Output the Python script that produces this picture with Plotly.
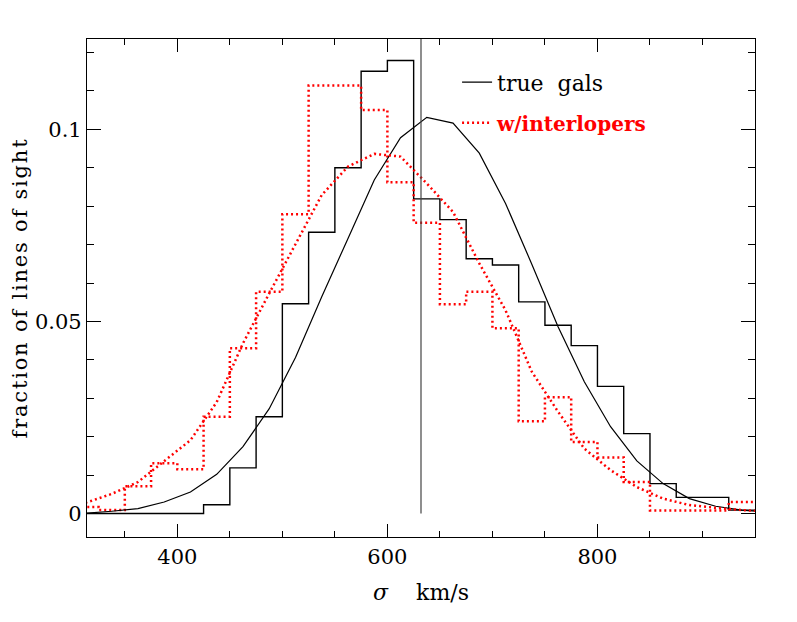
import plotly.graph_objects as go

# bin edges of the two histograms (km/s)
edges = [300, 325, 350, 375, 400, 425, 450, 475, 500, 525, 550, 575, 600,
         625, 650, 675, 700, 725, 750, 775, 800, 825, 850, 875, 900, 925, 950]

# fraction per bin, true galaxies only
true_hist = [0.0, 0.0, 0.0, 0.0, 0.0, 0.0023, 0.0119, 0.0252, 0.0546, 0.0732,
             0.0900, 0.1151, 0.1179, 0.0819, 0.0765, 0.0663, 0.0647, 0.0551,
             0.0490, 0.0437, 0.0331, 0.0208, 0.0078, 0.0042, 0.0042, 0.0009]

# fraction per bin, with interlopers
inter_hist = [0.0017, 0.0009, 0.0071, 0.0131, 0.0115, 0.0252, 0.0430, 0.0577,
              0.0779, 0.1114, 0.1114, 0.1050, 0.0862, 0.0757, 0.0545, 0.0577,
              0.0482, 0.0240, 0.0303, 0.0186, 0.0146, 0.0082, 0.0008, 0.0008,
              0.0008, 0.0030]

# smooth curves sampled at bin centres
centers = [312.5, 337.5, 362.5, 387.5, 412.5, 437.5, 462.5, 487.5, 512.5,
           537.5, 562.5, 587.5, 612.5, 637.5, 662.5, 687.5, 712.5, 737.5,
           762.5, 787.5, 812.5, 837.5, 862.5, 887.5, 912.5, 937.5, 962.5]

true_curve = [0.0001, 0.0006, 0.0013, 0.0030, 0.0056, 0.0102, 0.0174, 0.0273,
              0.0406, 0.0564, 0.0716, 0.0868, 0.0978, 0.1031, 0.1016, 0.0938,
              0.0807, 0.0649, 0.0486, 0.0343, 0.0226, 0.0137, 0.0078, 0.0039,
              0.0019, 0.0009, 0.0004]

inter_curve = [0.0028, 0.0051, 0.0082, 0.0136, 0.0191, 0.0290, 0.0443, 0.0573,
               0.0703, 0.0829, 0.0903, 0.0936, 0.0929, 0.0859, 0.0785, 0.0651,
               0.0529, 0.0369, 0.0265, 0.0169, 0.0113, 0.0069, 0.0039, 0.0022,
               0.0015, 0.0009, 0.0006]

# vertical marker
sigma_mark = 632
mark_y = [0.0, 0.13]

FONT = "DejaVu Serif"
RED = "#ff0000"

fig = go.Figure()

fig.add_trace(go.Scatter(x=edges, y=true_hist + true_hist[-1:], mode="lines",
                         line=dict(color="black", width=1.4, shape="hv"),
                         showlegend=False, hoverinfo="skip"))
fig.add_trace(go.Scatter(x=edges, y=inter_hist + inter_hist[-1:], mode="lines",
                         line=dict(color=RED, width=2.5, shape="hv", dash="2px,3px"),
                         showlegend=False, hoverinfo="skip"))
fig.add_trace(go.Scatter(x=centers, y=true_curve, mode="lines", name="true  gals",
                         legendgroup="a",
                         line=dict(color="black", width=1.2)))
fig.add_trace(go.Scatter(x=centers, y=inter_curve, mode="lines",
                         name="<span style='color:#ff0000;font-size:20px'><b>w/interlopers</b></span>",
                         legendgroup="b",
                         line=dict(color=RED, width=2.5, dash="2px,3px")))
fig.add_trace(go.Scatter(x=[sigma_mark, sigma_mark], y=mark_y, mode="lines",
                         line=dict(color="#444444", width=1.2),
                         showlegend=False, hoverinfo="skip"))

axis_common = dict(showline=True, linecolor="black", linewidth=1.2, mirror="ticks",
                   ticks="inside", tickcolor="black", showgrid=False, zeroline=False,
                   automargin=False,
                   tickfont=dict(family=FONT, size=21, color="black"))

fig.update_xaxes(range=[314, 950], tick0=0, dtick=200, ticklen=13, tickwidth=1.2,
                 minor=dict(dtick=50, ticklen=6, ticks="inside", tickcolor="black", tickwidth=1.2),
                 ticklabelstandoff=1,
                 title=dict(text="<i>σ</i>    km/s", font=dict(family=FONT, size=22, color="black"),
                            standoff=16),
                 **axis_common)
fig.update_yaxes(range=[-0.0061, 0.1235], tick0=0, dtick=0.05, ticklen=14, tickwidth=1.2,
                 minor=dict(dtick=0.01, ticklen=7, ticks="inside", tickcolor="black", tickwidth=1.2),
                 title=dict(text="<span style='letter-spacing:1.8px'>fraction of lines of sight</span>",
                            font=dict(family=FONT, size=21, color="black"), standoff=3),
                 **axis_common)

# the page body adds an 8 px offset, so margins are trimmed to keep the frame in place
fig.update_layout(
    width=797, height=622,
    margin=dict(l=79, r=50, t=31, b=93),
    plot_bgcolor="white", paper_bgcolor="white",
    font=dict(family=FONT, color="black"),
    legend=dict(x=0.554, y=0.955, xanchor="left", yanchor="top",
                bgcolor="rgba(0,0,0,0)", tracegroupgap=9, itemwidth=30,
                font=dict(family=FONT, size=22, color="black")),
)

fig.write_html("out.html")
